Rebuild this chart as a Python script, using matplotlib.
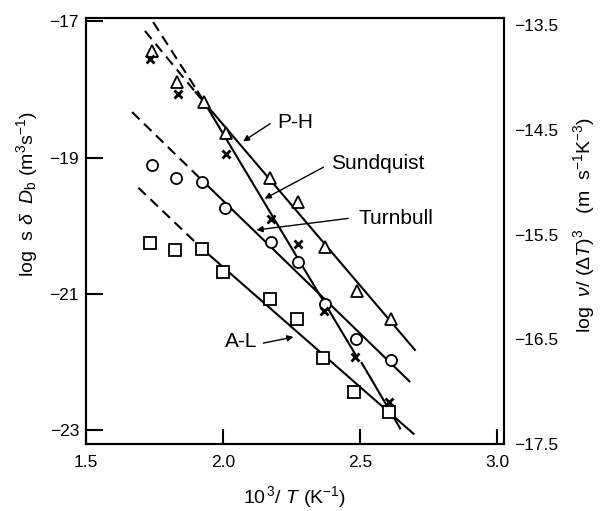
import numpy as np
import matplotlib
matplotlib.use("Agg")
import matplotlib.pyplot as plt

plt.rcParams['font.family'] = ['Liberation Sans', 'DejaVu Sans']
plt.rcParams['mathtext.fontset'] = 'custom'
plt.rcParams['mathtext.rm'] = 'Liberation Sans'
plt.rcParams['mathtext.it'] = 'Liberation Sans:italic'

# measured points (10^3/T, log s delta Db)
ph_x = [1.739, 1.831, 1.930, 2.011, 2.173, 2.275, 2.373, 2.489, 2.613]
ph_y = [-17.43, -17.89, -18.18, -18.63, -19.30, -19.65, -20.31, -20.96, -21.36]

sund_x = [1.735, 1.835, 2.011, 2.176, 2.275, 2.370, 2.483, 2.606]
sund_y = [-17.55, -18.06, -18.94, -19.90, -20.26, -21.25, -21.93, -22.59]

turn_x = [1.739, 1.828, 1.925, 2.007, 2.176, 2.272, 2.373, 2.486, 2.613]
turn_y = [-19.10, -19.30, -19.35, -19.74, -20.23, -20.53, -21.14, -21.66, -21.97]

al_x = [1.735, 1.824, 1.923, 2.000, 2.172, 2.270, 2.366, 2.479, 2.606]
al_y = [-20.25, -20.36, -20.34, -20.67, -21.07, -21.36, -21.94, -22.44, -22.73]

# fitted lines: dashed extrapolation part, then solid part
ph_dash_x, ph_dash_y = [1.715, 1.90], [-17.14, -18.04]
ph_fit_x, ph_fit_y = [1.90, 2.70], [-18.04, -21.82]

sund_dash_x, sund_dash_y = [1.745, 1.908], [-17.01, -18.03]
sund_fit1_x, sund_fit1_y = [1.908, 2.482], [-18.03, -21.88]
sund_fit2_x, sund_fit2_y = [2.506, 2.646], [-22.01, -22.97]

turn_dash_x, turn_dash_y = [1.668, 1.923], [-18.33, -19.33]
turn_fit_x, turn_fit_y = [1.923, 2.68], [-19.33, -22.28]

al_dash_x, al_dash_y = [1.691, 1.925], [-19.44, -20.34]
al_fit_x, al_fit_y = [1.925, 2.695], [-20.34, -23.05]

# labels: name, text position, arrow tail, arrow head
labels = ['P-H', 'Sundquist', 'Turnbull', 'A-L']
label_pos = [(2.263, -18.48), (2.564, -19.08), (2.631, -19.89), (2.065, -21.70)]
arrow_tail = [(2.172, -18.50), (2.366, -19.14), (2.457, -19.89), (2.147, -21.72)]
arrow_head = [(2.073, -18.76), (2.152, -19.60), (2.122, -20.06), (2.257, -21.63)]

fig = plt.figure(figsize=(6.08, 5.11), dpi=100)
ax = fig.add_axes([86 / 608, 1 - 444 / 511, 418 / 608, 426 / 511])

lw = 1.5
ax.plot(ph_dash_x, ph_dash_y, 'k--', lw=lw, dashes=(5, 3))
ax.plot(ph_fit_x, ph_fit_y, 'k-', lw=lw)
ax.plot(sund_dash_x, sund_dash_y, 'k--', lw=lw, dashes=(5, 3))
ax.plot(sund_fit1_x, sund_fit1_y, 'k-', lw=lw)
ax.plot(sund_fit2_x, sund_fit2_y, 'k-', lw=lw)
ax.plot(turn_dash_x, turn_dash_y, 'k--', lw=lw, dashes=(5, 3))
ax.plot(turn_fit_x, turn_fit_y, 'k-', lw=lw)
ax.plot(al_dash_x, al_dash_y, 'k--', lw=lw, dashes=(5, 3))
ax.plot(al_fit_x, al_fit_y, 'k-', lw=lw)

mk = dict(ls='none', mfc='white', mec='black', mew=1.3, ms=8, zorder=3)
ax.plot(ph_x, ph_y, marker='^', **mk)
ax.plot(turn_x, turn_y, marker='o', **mk)
ax.plot(al_x, al_y, marker='s', **mk)
ax.plot(sund_x, sund_y, ls='none', marker='x', color='black', mew=2, ms=5.5, zorder=4)

for name, pos, tail, head in zip(labels, label_pos, arrow_tail, arrow_head):
    ax.text(pos[0], pos[1], name, ha='center', va='center', fontsize=15)
    ax.annotate('', xy=head, xytext=tail,
                arrowprops=dict(arrowstyle='-|>', color='black', lw=1.0,
                                mutation_scale=9, shrinkA=0, shrinkB=0))

ax.set_xlim(1.5, 3.025)
ax.set_ylim(-23.2, -16.95)
ax.set_xticks([1.5, 2.0, 2.5, 3.0])
ax.set_xticklabels(['1.5', '2.0', '2.5', '3.0'])
ax.set_yticks([-17, -19, -21, -23])
ax.set_yticklabels(['\u221217', '\u221219', '\u221221', '\u221223'])
ax.tick_params(axis='both', direction='in', width=1.5, labelsize=12.5)
ax.tick_params(axis='y', length=12, pad=5)
ax.tick_params(axis='x', length=11, pad=8)
for s in ax.spines.values():
    s.set_linewidth(1.5)

ax.set_xlabel(r'10$^{\,3}$/ $T$ (K$^{-1}$)', fontsize=14)
ax.xaxis.set_label_coords(0.5, -0.095)
ax.set_ylabel(r'log  s $\delta$  $D_\mathrm{b}$ (m$^3$s$^{-1}$)', fontsize=14)
ax.yaxis.set_label_coords(-0.11, 0.587)

ax2 = ax.twinx()
ax2.set_ylim(-17.49, -13.43)
ax2.set_yticks([-13.5, -14.5, -15.5, -16.5, -17.5])
ax2.set_yticklabels(['\u221213.5', '\u221214.5', '\u221215.5', '\u221216.5', '\u221217.5'])
ax2.tick_params(axis='y', length=0, pad=7, labelsize=12.5)
for s in ax2.spines.values():
    s.set_linewidth(1.5)
ax2.set_ylabel(r'log  $\nu$/ ($\Delta T$)$^3$   (m  s$^{-1}$K$^{-3}$)', fontsize=14)
ax2.yaxis.set_label_coords(1.16, 0.514)

fig.savefig('out.png', dpi=100)
